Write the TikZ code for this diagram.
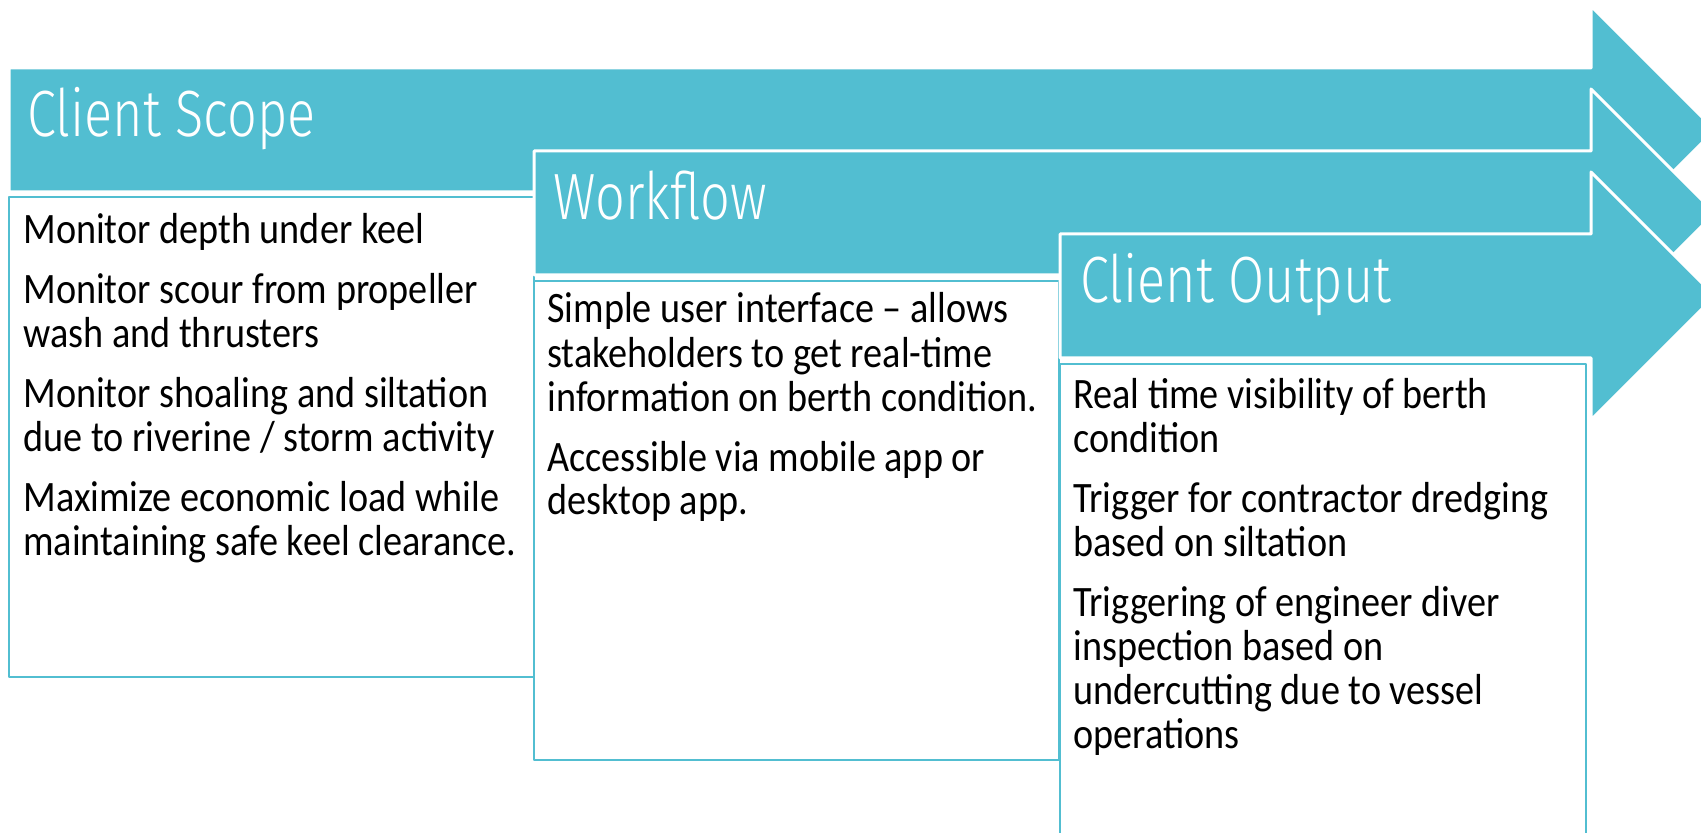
\documentclass[tikz,border=0pt]{standalone}
\usepackage{fontspec}
\setmainfont{Carlito}
\newfontfamily\bodyfont{Carlito}[FakeStretch=0.88]
\newfontfamily\headfont{Fira Sans Light}[FakeStretch=0.8]
\usepackage{tikz}
\usepackage{xcolor}
\definecolor{skyteal}{RGB}{82, 190, 209}

\begin{document}
\begin{tikzpicture}[line cap=round, line join=round, x=0.5pt, y=-0.5pt,
	arrowshape/.style={fill=skyteal, draw=white, line width=1.5pt},
	panel/.style={draw=skyteal, fill=white, line width=1pt},
	heading/.style={anchor=base west, inner sep=0pt, text=white, font={\headfont\fontsize{32.7}{36}\selectfont}},
	bodytext/.style={anchor=base west, inner sep=0pt, align=left, text=black, font={\bodyfont\fontsize{21.7}{22}\selectfont}}]
	% page frame
	\useasboundingbox (0,0) rectangle (1701,833);
	\clip (0,0) rectangle (1701,833);
	
	% first arrow and its panel (text anchored at its last line)
	\draw[arrowshape] (9,68) -- (1591,68) -- (1591,6) -- (1715,130) -- (1591,254) -- (1591,192) -- (9,192) -- cycle;
	\draw[panel] (9,197) rectangle (534,677);
	\node[heading] (scopetitle) at (27,137) {Client Scope};
	\node[bodytext] (scopetext) at (23,555) {Monitor depth under keel\\[8pt]
		Monitor scour from propeller\\ wash and thrusters\\[8pt]
		Monitor shoaling and siltation\\ due to riverine / storm activity\\[8pt]
		Maximize economic load while\\ maintaining safe keel clearance.};
	
	% second arrow and its panel
	\draw[arrowshape] (534,151) -- (1591,151) -- (1591,89) -- (1715,213) -- (1591,337) -- (1591,275) -- (534,275) -- cycle;
	\draw[panel] (534,281) rectangle (1059,760);
	\node[heading] (flowtitle) at (553,220) {Workflow};
	\node[bodytext] (flowtext) at (547,515) {Simple user interface \textendash{} allows\\ stakeholders to get real-time\\ information on berth condition.\\[8pt]
		Accessible via mobile app or\\ desktop app.};
	
	% third arrow and its panel
	\draw[arrowshape] (1060,234) -- (1591,234) -- (1591,172) -- (1715,296) -- (1591,420) -- (1591,358) -- (1060,358) -- cycle;
	\draw[panel] (1060,364) rectangle (1586,860);
	\node[heading] (outputtitle) at (1080,303) {Client Output};
	\node[bodytext] (outputtext) at (1073,748) {Real time visibility of berth\\ condition\\[8pt]
		Trigger for contractor dredging\\ based on siltation\\[8pt]
		Triggering of engineer diver\\ inspection based on\\ undercutting due to vessel\\ operations};
\end{tikzpicture}
\end{document}
